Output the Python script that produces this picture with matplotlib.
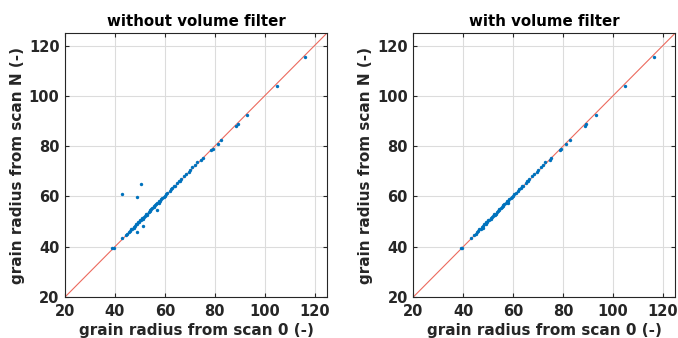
import matplotlib
matplotlib.use("Agg")
import matplotlib.pyplot as plt

# grains kept by the volume filter (radius scan 0, radius scan N)
r0_kept = [39.0, 39.5, 43.0, 44.5, 45.0, 45.5, 46.0, 46.5, 47.0, 47.5, 47.8, 48.0,
           48.5, 49.0, 49.3, 49.5, 50.0, 50.5, 51.0, 51.2, 51.5, 52.0, 52.5, 52.8,
           53.0, 53.5, 54.0, 54.2, 54.5, 55.0, 55.5, 55.8, 56.0, 56.5, 57.0, 57.5,
           57.8, 58.0, 58.5, 59.0, 59.5, 60.0, 60.5, 61.0, 62.0, 62.5, 63.0, 63.5,
           64.0, 65.0, 65.5, 66.0, 66.5, 67.5, 68.5, 69.5, 70.0, 71.0, 72.0, 72.7,
           74.7, 75.3, 78.7, 79.3, 81.3, 82.7, 88.7, 89.3, 93.1, 104.9, 116.3]
rN_kept = [39.3, 39.4, 43.5, 44.8, 45.2, 46.0, 46.3, 47.0, 47.2, 48.0, 47.5, 48.3,
           49.0, 49.2, 50.0, 49.8, 50.5, 50.7, 51.5, 51.0, 51.8, 52.4, 53.0, 52.5,
           53.2, 54.0, 54.3, 54.8, 55.0, 55.5, 55.7, 56.2, 56.5, 57.0, 57.3, 58.0,
           57.5, 58.3, 59.0, 59.5, 59.8, 60.2, 61.0, 61.5, 62.3, 63.0, 63.2, 64.0,
           64.3, 65.5, 66.0, 66.2, 67.0, 68.0, 69.0, 69.8, 70.5, 71.8, 72.6, 73.5,
           74.4, 75.3, 78.3, 79.0, 81.0, 82.6, 87.9, 88.9, 92.2, 104.1, 115.6]

# grains removed by the volume filter
r0_removed = [42.7, 50.3, 48.9, 48.9, 51.1, 56.9]
rN_removed = [61.1, 65.1, 59.8, 45.9, 48.3, 54.8]

ticks = [20, 40, 60, 80, 100, 120]
lims = [20, 125]

plt.rcParams["font.family"] = "DejaVu Sans"
plt.rcParams["font.weight"] = "bold"

fig = plt.figure(figsize=(6.78, 3.38), dpi=100)
ax1 = fig.add_axes([0.0959, 0.1213, 0.3864, 0.781])
ax2 = fig.add_axes([0.6096, 0.1213, 0.3864, 0.781])

panels = [
    (ax1, "without volume filter", r0_kept + r0_removed, rN_kept + rN_removed),
    (ax2, "with volume filter", r0_kept, rN_kept),
]

for ax, title, x, y in panels:
    ax.plot(lims, lims, color="#ec6a5e", lw=0.8, zorder=2)
    ax.scatter(x, y, s=6, color="#0072BD", lw=0, zorder=3)
    ax.set_xlim(lims)
    ax.set_ylim(lims)
    ax.set_xticks(ticks)
    ax.set_yticks(ticks)
    ax.grid(True, color="#dcdcdc", lw=0.8, zorder=0)
    ax.set_axisbelow(True)
    ax.tick_params(direction="in", length=3, labelsize=10.5, colors="#262626",
                   top=True, right=True)
    ax.tick_params(axis="x", pad=5)
    ax.tick_params(axis="y", pad=4)
    for lab in ax.get_xticklabels() + ax.get_yticklabels():
        lab.set_fontweight("bold")
    for sp in ax.spines.values():
        sp.set_color("#262626")
        sp.set_linewidth(0.8)
    ax.set_title(title, fontsize=10.8, fontweight="bold", pad=5)
    ax.set_xlabel("grain radius from scan 0 (-)", fontsize=11, fontweight="bold",
                  color="#262626", labelpad=3)
    ax.set_ylabel("grain radius from scan N (-)", fontsize=11, fontweight="bold",
                  color="#262626", labelpad=3)

fig.savefig("out.png", dpi=100)
